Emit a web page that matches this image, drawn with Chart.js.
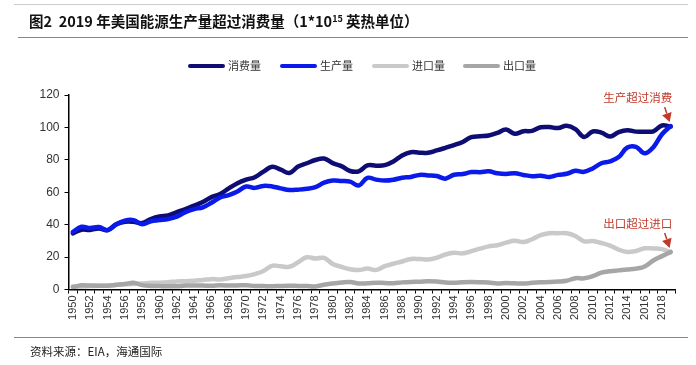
<!DOCTYPE html>
<html>
<head>
<meta charset="utf-8">
<script src="https://cdn.jsdelivr.net/npm/chart.js@4.4.1/dist/chart.umd.min.js"></script>
<style>
  html, body { margin: 0; padding: 0; background: #fff; }
  #wrap { position: relative; width: 696px; height: 365px; overflow: hidden; }
  #c { position: absolute; left: 0; top: 0; }
  #title { position: absolute; left: 29px; top: 10px; font-family: "Noto Sans CJK SC", sans-serif; font-weight: bold; font-size: 14.5px; color: #111; white-space: nowrap; }
  #title sup { font-size: 9px; vertical-align: 5px; line-height: 0; }
  #tline { position: absolute; left: 18px; width: 670px; top: 37px; height: 0; border-top: 1px solid #888; }
  #topline { position: absolute; left: 14px; width: 674px; top: 4px; height: 0; border-top: 1px solid #ccc; }
  #fline { position: absolute; left: 14px; width: 674px; top: 337px; height: 0; border-top: 1px solid #888; }
  #src { position: absolute; left: 30px; top: 343px; font-family: "Noto Sans CJK SC", sans-serif; font-size: 11.5px; color: #222; white-space: nowrap; }
  #legend { position: absolute; top: 58px; left: 0; width: 696px; height: 14px; font-family: "Noto Sans CJK SC", sans-serif; font-size: 11px; color: #333; }
  .li { position: absolute; top: 0; height: 14px; line-height: 14px; white-space: nowrap; }
  .li span.sw { display: inline-block; width: 37px; height: 4px; border-radius: 2px; vertical-align: middle; margin-right: 3px; position: relative; top: -1px; }
</style>
</head>
<body>
<div id="wrap">
  <canvas id="c" width="696" height="365"></canvas>
  <div id="topline"></div>
  <div id="title">图2&nbsp;&nbsp;2019 年美国能源生产量超过消费量（1*10<sup>15</sup> 英热单位）</div>
  <div id="tline"></div>
  <div id="legend"></div>
  <div id="fline"></div>
  <div id="src">资料来源：EIA，海通国际</div>
</div>
<script>
const years = [];
for (let y = 1950; y <= 2019; y++) years.push(String(y));

const seriesNames = ['消费量', '生产量', '进口量', '出口量'];
const seriesColors = ['#0d0d73', '#0a1aeb', '#c9c9c9', '#a6a6a6'];

const consumption = [
  34.6, 36.9, 36.7, 37.7, 36.6, 40.2, 41.8, 41.8, 41.0, 43.5,
  45.1, 45.7, 47.8, 49.6, 51.8, 54.0, 57.0, 58.9, 62.4, 65.6,
  67.8, 69.3, 72.7, 75.7, 73.9, 71.9, 75.9, 77.9, 79.9, 80.8,
  78.0, 76.1, 73.1, 72.9, 76.6, 76.4, 76.7, 79.0, 82.7, 84.7,
  84.4, 84.4, 85.8, 87.4, 89.1, 91.0, 94.0, 94.5, 95.0, 96.6,
  98.7, 96.1, 97.6, 97.9, 100.1, 100.2, 99.6, 101.0, 98.9, 94.1,
  97.5, 96.8, 94.4, 97.1, 98.3, 97.4, 97.4, 97.6, 101.2, 100.5
];
const production = [
  35.5, 38.7, 37.9, 38.5, 36.6, 40.1, 42.5, 42.8, 40.2, 42.1,
  42.8, 43.5, 45.0, 47.7, 49.6, 50.7, 53.5, 56.8, 58.3, 60.5,
  63.5, 62.7, 63.9, 63.6, 62.4, 61.4, 61.6, 62.1, 63.1, 65.9,
  67.2, 67.0, 66.6, 64.2, 68.9, 67.8, 67.2, 67.7, 69.0, 69.4,
  70.7, 70.4, 70.0, 68.4, 70.8, 71.2, 72.5, 72.4, 72.9, 71.7,
  71.3, 71.7, 70.7, 69.9, 70.2, 69.4, 70.7, 71.4, 73.2, 72.6,
  74.7, 77.9, 79.0, 81.7, 87.6, 88.0, 84.0, 87.8, 95.8, 100.8
];
const imports = [
  1.9, 1.9, 2.1, 2.3, 2.3, 2.8, 3.2, 3.4, 3.7, 4.1,
  4.2, 4.5, 5.0, 5.1, 5.4, 5.9, 6.4, 6.2, 7.0, 7.7,
  8.3, 9.5, 11.4, 14.6, 14.3, 14.0, 16.8, 19.9, 19.1, 19.5,
  15.8, 14.0, 12.5, 12.0, 12.9, 12.1, 14.4, 15.9, 17.3, 18.8,
  18.8, 18.5, 19.6, 21.6, 22.6, 22.3, 23.7, 25.2, 26.6, 27.3,
  28.9, 30.1, 29.3, 31.0, 33.5, 34.7, 34.7, 34.7, 33.0, 29.7,
  29.9, 28.7, 27.1, 24.6, 23.2, 23.8, 25.4, 25.3, 24.9, 23.0
];
const exports = [
  1.5, 2.6, 2.4, 2.3, 2.3, 2.9, 3.4, 4.1, 2.7, 2.2,
  2.1, 2.0, 2.0, 2.4, 2.5, 2.4, 2.3, 2.6, 2.4, 2.5,
  2.6, 2.2, 2.1, 2.0, 2.2, 2.3, 2.2, 2.1, 1.9, 2.9,
  3.7, 4.3, 4.6, 3.7, 3.8, 4.2, 4.0, 3.8, 4.4, 4.7,
  4.8, 5.1, 4.9, 4.3, 4.1, 4.5, 4.6, 4.5, 4.3, 3.7,
  4.0, 3.8, 3.7, 4.1, 4.4, 4.6, 4.9, 5.4, 7.0, 6.9,
  8.2, 10.4, 11.3, 11.8, 12.3, 12.9, 14.2, 17.9, 20.6, 23.2
];
const yTicks = [0, 20, 40, 60, 80, 100, 120];
const notes = ['生产超过消费', '出口超过进口'];

const seriesData = [consumption, production, imports, exports];

// HTML legend
const legendX = [188, 280, 372, 463];
const lg = document.getElementById('legend');
seriesNames.forEach((n, i) => {
  const d = document.createElement('div');
  d.className = 'li';
  d.style.left = legendX[i] + 'px';
  d.innerHTML = '<span class="sw" style="background:' + seriesColors[i] + '"></span>' + n;
  lg.appendChild(d);
});

const annotate = {
  id: 'annotate',
  afterDatasetsDraw(chart) {
    const ctx = chart.ctx;
    const targets = [[1, notes[0]], [3, notes[1]]];
    ctx.save();
    targets.forEach(([di, text]) => {
      const meta = chart.getDatasetMeta(di);
      const pt = meta.data[meta.data.length - 1];
      const px = pt.x, py = pt.y;
      ctx.fillStyle = '#c0392b';
      ctx.strokeStyle = '#c0392b';
      ctx.font = '11.5px "Noto Sans CJK SC", sans-serif';
      ctx.textAlign = 'center';
      ctx.textBaseline = 'middle';
      ctx.fillText(text, px - 33, py - 28);
      // arrow
      const tx = px - 1, ty = py - 4;
      const sx = px - 6, sy = py - 19;
      const dx = tx - sx, dy = ty - sy;
      const L = Math.hypot(dx, dy);
      const ux = dx / L, uy = dy / L;
      const hl = 9, hw = 5;
      const bx = tx - ux * hl, by = ty - uy * hl;
      ctx.lineWidth = 1.5;
      ctx.beginPath();
      ctx.moveTo(sx, sy);
      ctx.lineTo(bx, by);
      ctx.stroke();
      ctx.beginPath();
      ctx.moveTo(tx, ty);
      ctx.lineTo(bx - uy * hw, by + ux * hw);
      ctx.lineTo(bx + uy * hw, by - ux * hw);
      ctx.closePath();
      ctx.fill();
    });
    ctx.restore();
  }
};

new Chart(document.getElementById('c'), {
  type: 'line',
  data: {
    labels: years,
    datasets: seriesNames.map((n, i) => ({
      label: n,
      data: seriesData[i],
      borderColor: seriesColors[i],
      backgroundColor: seriesColors[i],
      borderWidth: 4.5,
      pointRadius: 0,
      tension: 0.4,
      fill: false,
      order: 4 - i,
      borderCapStyle: 'round',
      borderJoinStyle: 'round'
    }))
  },
  options: {
    responsive: false,
    animation: false,
    layout: { padding: { left: 0, right: 21, top: 95, bottom: 35.5 } },
    plugins: { legend: { display: false }, tooltip: { enabled: false } },
    scales: {
      x: {
        type: 'category',
        offset: true,
        afterFit(s) { s.height = 40; },
        grid: { display: true, offset: true, drawOnChartArea: false, drawTicks: true, tickLength: 4, color: '#000', lineWidth: 1 },
        border: { display: true, color: '#000', width: 1.5 },
        ticks: {
          autoSkip: false,
          maxRotation: 90,
          minRotation: 90,
          padding: 2,
          color: '#333',
          font: { family: 'Liberation Sans', size: 11 },
          callback(v, i) { return i % 2 === 0 ? years[i] : ''; }
        }
      },
      y: {
        min: 0,
        max: 120,
        afterFit(s) { s.width = 68.5; },
        afterBuildTicks(s) { s.ticks = yTicks.map(v => ({ value: v })); },
        grid: { display: true, drawOnChartArea: false, drawTicks: true, tickLength: 4, color: '#000' },
        border: { display: true, color: '#000', width: 1.5 },
        ticks: { color: '#333', padding: 5, font: { family: 'Liberation Sans', size: 12 } }
      }
    }
  },
  plugins: [annotate]
});
</script>
</body>
</html>
